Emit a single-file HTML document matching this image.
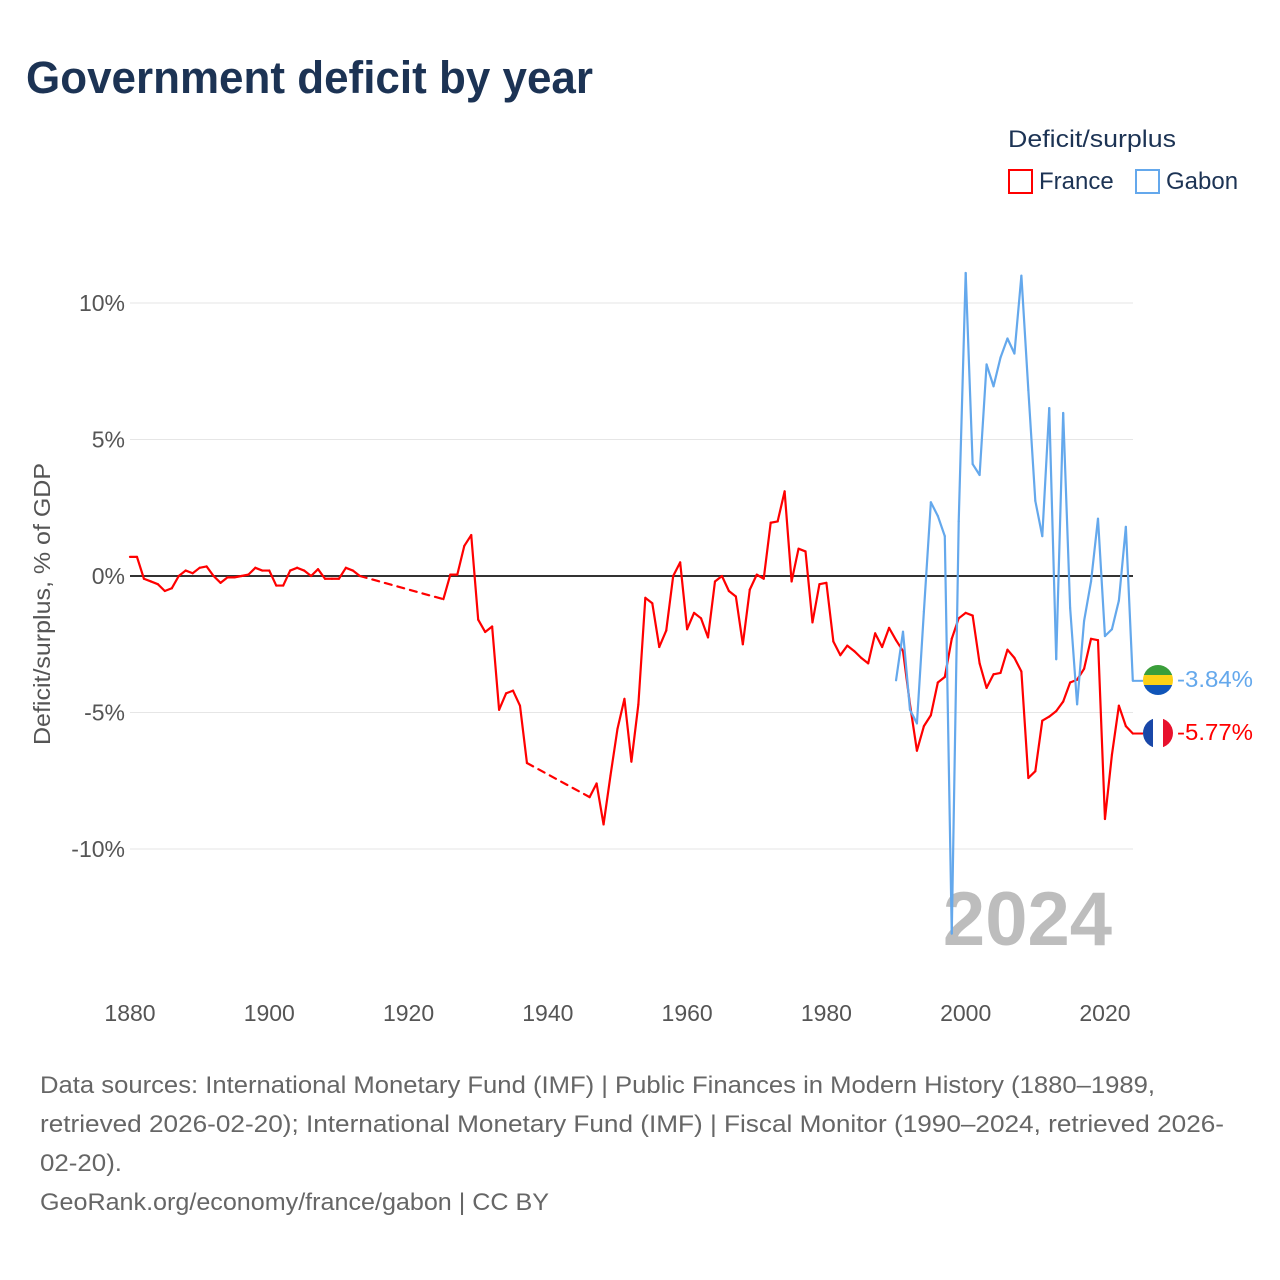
<!DOCTYPE html>
<html><head><meta charset="utf-8"><style>
body{margin:0;background:#fff;font-family:"Liberation Sans",sans-serif;}
#wrap{position:relative;width:1280px;height:1280px;overflow:hidden;}
</style></head><body>
<div id="wrap">
<svg id="chart" width="1280" height="1280" xmlns="http://www.w3.org/2000/svg">
<text x="26" y="93" font-size="45" font-weight="bold" fill="#1c3354" textLength="567" lengthAdjust="spacingAndGlyphs">Government deficit by year</text>
<text x="1008" y="147" font-size="24" fill="#1c3354" textLength="168" lengthAdjust="spacingAndGlyphs">Deficit/surplus</text>
<g><rect x="1009" y="170" width="23" height="23" fill="none" stroke="#f00" stroke-width="2"/><text x="1039" y="189" font-size="24" fill="#1c3354">France</text></g>
<g><rect x="1136" y="170" width="23" height="23" fill="none" stroke="#64a8ec" stroke-width="2"/><text x="1166" y="189" font-size="24" fill="#1c3354">Gabon</text></g>
<text transform="translate(50,604) rotate(-90)" text-anchor="middle" font-size="23" fill="#555" textLength="282" lengthAdjust="spacingAndGlyphs">Deficit/surplus, % of GDP</text>
<g id="grid"></g><g id="xt"></g>
<text x="1112" y="945" text-anchor="end" font-size="76" font-weight="bold" fill="#bdbdbd">2024</text>
<g id="series"></g>
<g>
<clipPath id="cg"><circle cx="1158" cy="680" r="15"/></clipPath>
<g clip-path="url(#cg)"><rect x="1143" y="665" width="30" height="10" fill="#3a9e3a"/><rect x="1143" y="675" width="30" height="10" fill="#fcd116"/><rect x="1143" y="685" width="30" height="10" fill="#1055b8"/></g>
<text x="1177" y="687" font-size="23" fill="#64a8ec" textLength="76" lengthAdjust="spacingAndGlyphs">-3.84%</text></g>
<g>
<clipPath id="cf"><circle cx="1158" cy="733" r="15"/></clipPath>
<g clip-path="url(#cf)"><rect x="1143" y="718" width="10" height="30" fill="#1947a8"/><rect x="1153" y="718" width="10" height="30" fill="#fff"/><rect x="1163" y="718" width="10" height="30" fill="#e8112d"/></g>
<text x="1177" y="740" font-size="23" fill="#f00" textLength="76" lengthAdjust="spacingAndGlyphs">-5.77%</text></g>
<g font-size="24" fill="#666">
<text x="40" y="1093" textLength="1115" lengthAdjust="spacingAndGlyphs">Data sources: International Monetary Fund (IMF) | Public Finances in Modern History (1880–1989,</text>
<text x="40" y="1132" textLength="1184" lengthAdjust="spacingAndGlyphs">retrieved 2026-02-20); International Monetary Fund (IMF) | Fiscal Monitor (1990–2024, retrieved 2026-</text>
<text x="40" y="1171" textLength="82" lengthAdjust="spacingAndGlyphs">02-20).</text>
<text x="40" y="1210" textLength="509" lengthAdjust="spacingAndGlyphs">GeoRank.org/economy/france/gabon | CC BY</text>
</g>
</svg>
</div>
<script>
const yTicks=[10,5,0,-5,-10];
const yTickLabels=["10%","5%","0%","-5%","-10%"];
const xTicks=[1880,1900,1920,1940,1960,1980,2000,2020];
const franceYears=[1880,1881,1882,1883,1884,1885,1886,1887,1888,1889,1890,1891,1892,1893,1894,1895,1896,1897,1898,1899,1900,1901,1902,1903,1904,1905,1906,1907,1908,1909,1910,1911,1912,1913,1925,1926,1927,1928,1929,1930,1931,1932,1933,1934,1935,1936,1937,1946,1947,1948,1949,1950,1951,1952,1953,1954,1955,1956,1957,1958,1959,1960,1961,1962,1963,1964,1965,1966,1967,1968,1969,1970,1971,1972,1973,1974,1975,1976,1977,1978,1979,1980,1981,1982,1983,1984,1985,1986,1987,1988,1989,1990,1991,1992,1993,1994,1995,1996,1997,1998,1999,2000,2001,2002,2003,2004,2005,2006,2007,2008,2009,2010,2011,2012,2013,2014,2015,2016,2017,2018,2019,2020,2021,2022,2023,2024];
const franceValues=[0.7,0.7,-0.1,-0.2,-0.3,-0.55,-0.45,0,0.2,0.1,0.3,0.35,0,-0.25,-0.05,-0.05,0,0.05,0.3,0.2,0.2,-0.35,-0.35,0.2,0.3,0.2,0,0.25,-0.1,-0.1,-0.1,0.3,0.2,0,-0.85,0.05,0.05,1.1,1.5,-1.6,-2.05,-1.85,-4.9,-4.3,-4.2,-4.75,-6.85,-8.1,-7.6,-9.1,-7.3,-5.6,-4.5,-6.8,-4.7,-0.8,-1.0,-2.6,-2.0,0,0.5,-1.95,-1.35,-1.55,-2.25,-0.2,0,-0.55,-0.75,-2.5,-0.5,0.05,-0.1,1.95,2.0,3.1,-0.2,1.0,0.9,-1.7,-0.3,-0.25,-2.4,-2.9,-2.55,-2.75,-3.0,-3.2,-2.1,-2.6,-1.9,-2.35,-2.75,-4.7,-6.4,-5.5,-5.1,-3.9,-3.7,-2.3,-1.55,-1.35,-1.45,-3.2,-4.1,-3.6,-3.55,-2.7,-3.0,-3.5,-7.4,-7.15,-5.3,-5.15,-4.95,-4.6,-3.9,-3.8,-3.4,-2.3,-2.35,-8.9,-6.55,-4.75,-5.5,-5.77];
const gabonYears=[1990,1991,1992,1993,1994,1995,1996,1997,1998,1999,2000,2001,2002,2003,2004,2005,2006,2007,2008,2009,2010,2011,2012,2013,2014,2015,2016,2017,2018,2019,2020,2021,2022,2023,2024];
const gabonValues=[-3.82,-2.04,-4.9,-5.4,-1.3,2.7,2.2,1.46,-13.1,2.0,11.1,4.1,3.7,7.75,6.95,8.0,8.7,8.15,11.0,6.8,2.75,1.46,6.15,-3.05,5.97,-1.17,-4.7,-1.65,-0.2,2.1,-2.2,-1.95,-0.9,1.8,-3.84];

const NS="http://www.w3.org/2000/svg";
const X=y=>130+(y-1880)*6.964;
const Y=v=>576-v*27.3;
function mk(tag,attrs,parent){const e=document.createElementNS(NS,tag);for(const k in attrs)e.setAttribute(k,attrs[k]);parent.appendChild(e);return e;}
const grid=document.getElementById('grid');
yTicks.forEach((t,i)=>{
  const l=mk('line',{x1:130,x2:1133,y1:Y(t),y2:Y(t),stroke:t===0?'#333':'#e6e6e6','stroke-width':t===0?2:1},grid);
  
  
  const tx=mk('text',{x:125,y:Y(t)+8,'text-anchor':'end','font-size':23,fill:'#555'},grid);
  tx.textContent=yTickLabels[i];
  
  
});
const xt=document.getElementById('xt');
xTicks.forEach(t=>{
  const tx=mk('text',{x:X(t),y:1021,'text-anchor':'middle','font-size':23,fill:'#555'},xt);
  tx.textContent=t;
  
  
});
const sg=document.getElementById('series');
function draw(years,vals,color,name,tail){
  for(let i=1;i<years.length;i++){
    const gap=years[i]-years[i-1]>1;
    const l=mk('line',{x1:X(years[i-1]),y1:Y(vals[i-1]),x2:X(years[i]),y2:Y(vals[i]),stroke:color,'stroke-width':2.2,'stroke-linecap':'round'},sg);
    if(gap)l.setAttribute('stroke-dasharray','7 6');
    
    
  }
  const last=vals[vals.length-1];
  const t=mk('line',{x1:X(years[years.length-1]),y1:Y(last),x2:tail,y2:Y(last),stroke:color,'stroke-width':2},sg);
  
  
}
draw(franceYears,franceValues,'#ff0000','france-line',1143);
draw(gabonYears,gabonValues,'#64a8ec','gabon-line',1143);
</script>
</body></html>
